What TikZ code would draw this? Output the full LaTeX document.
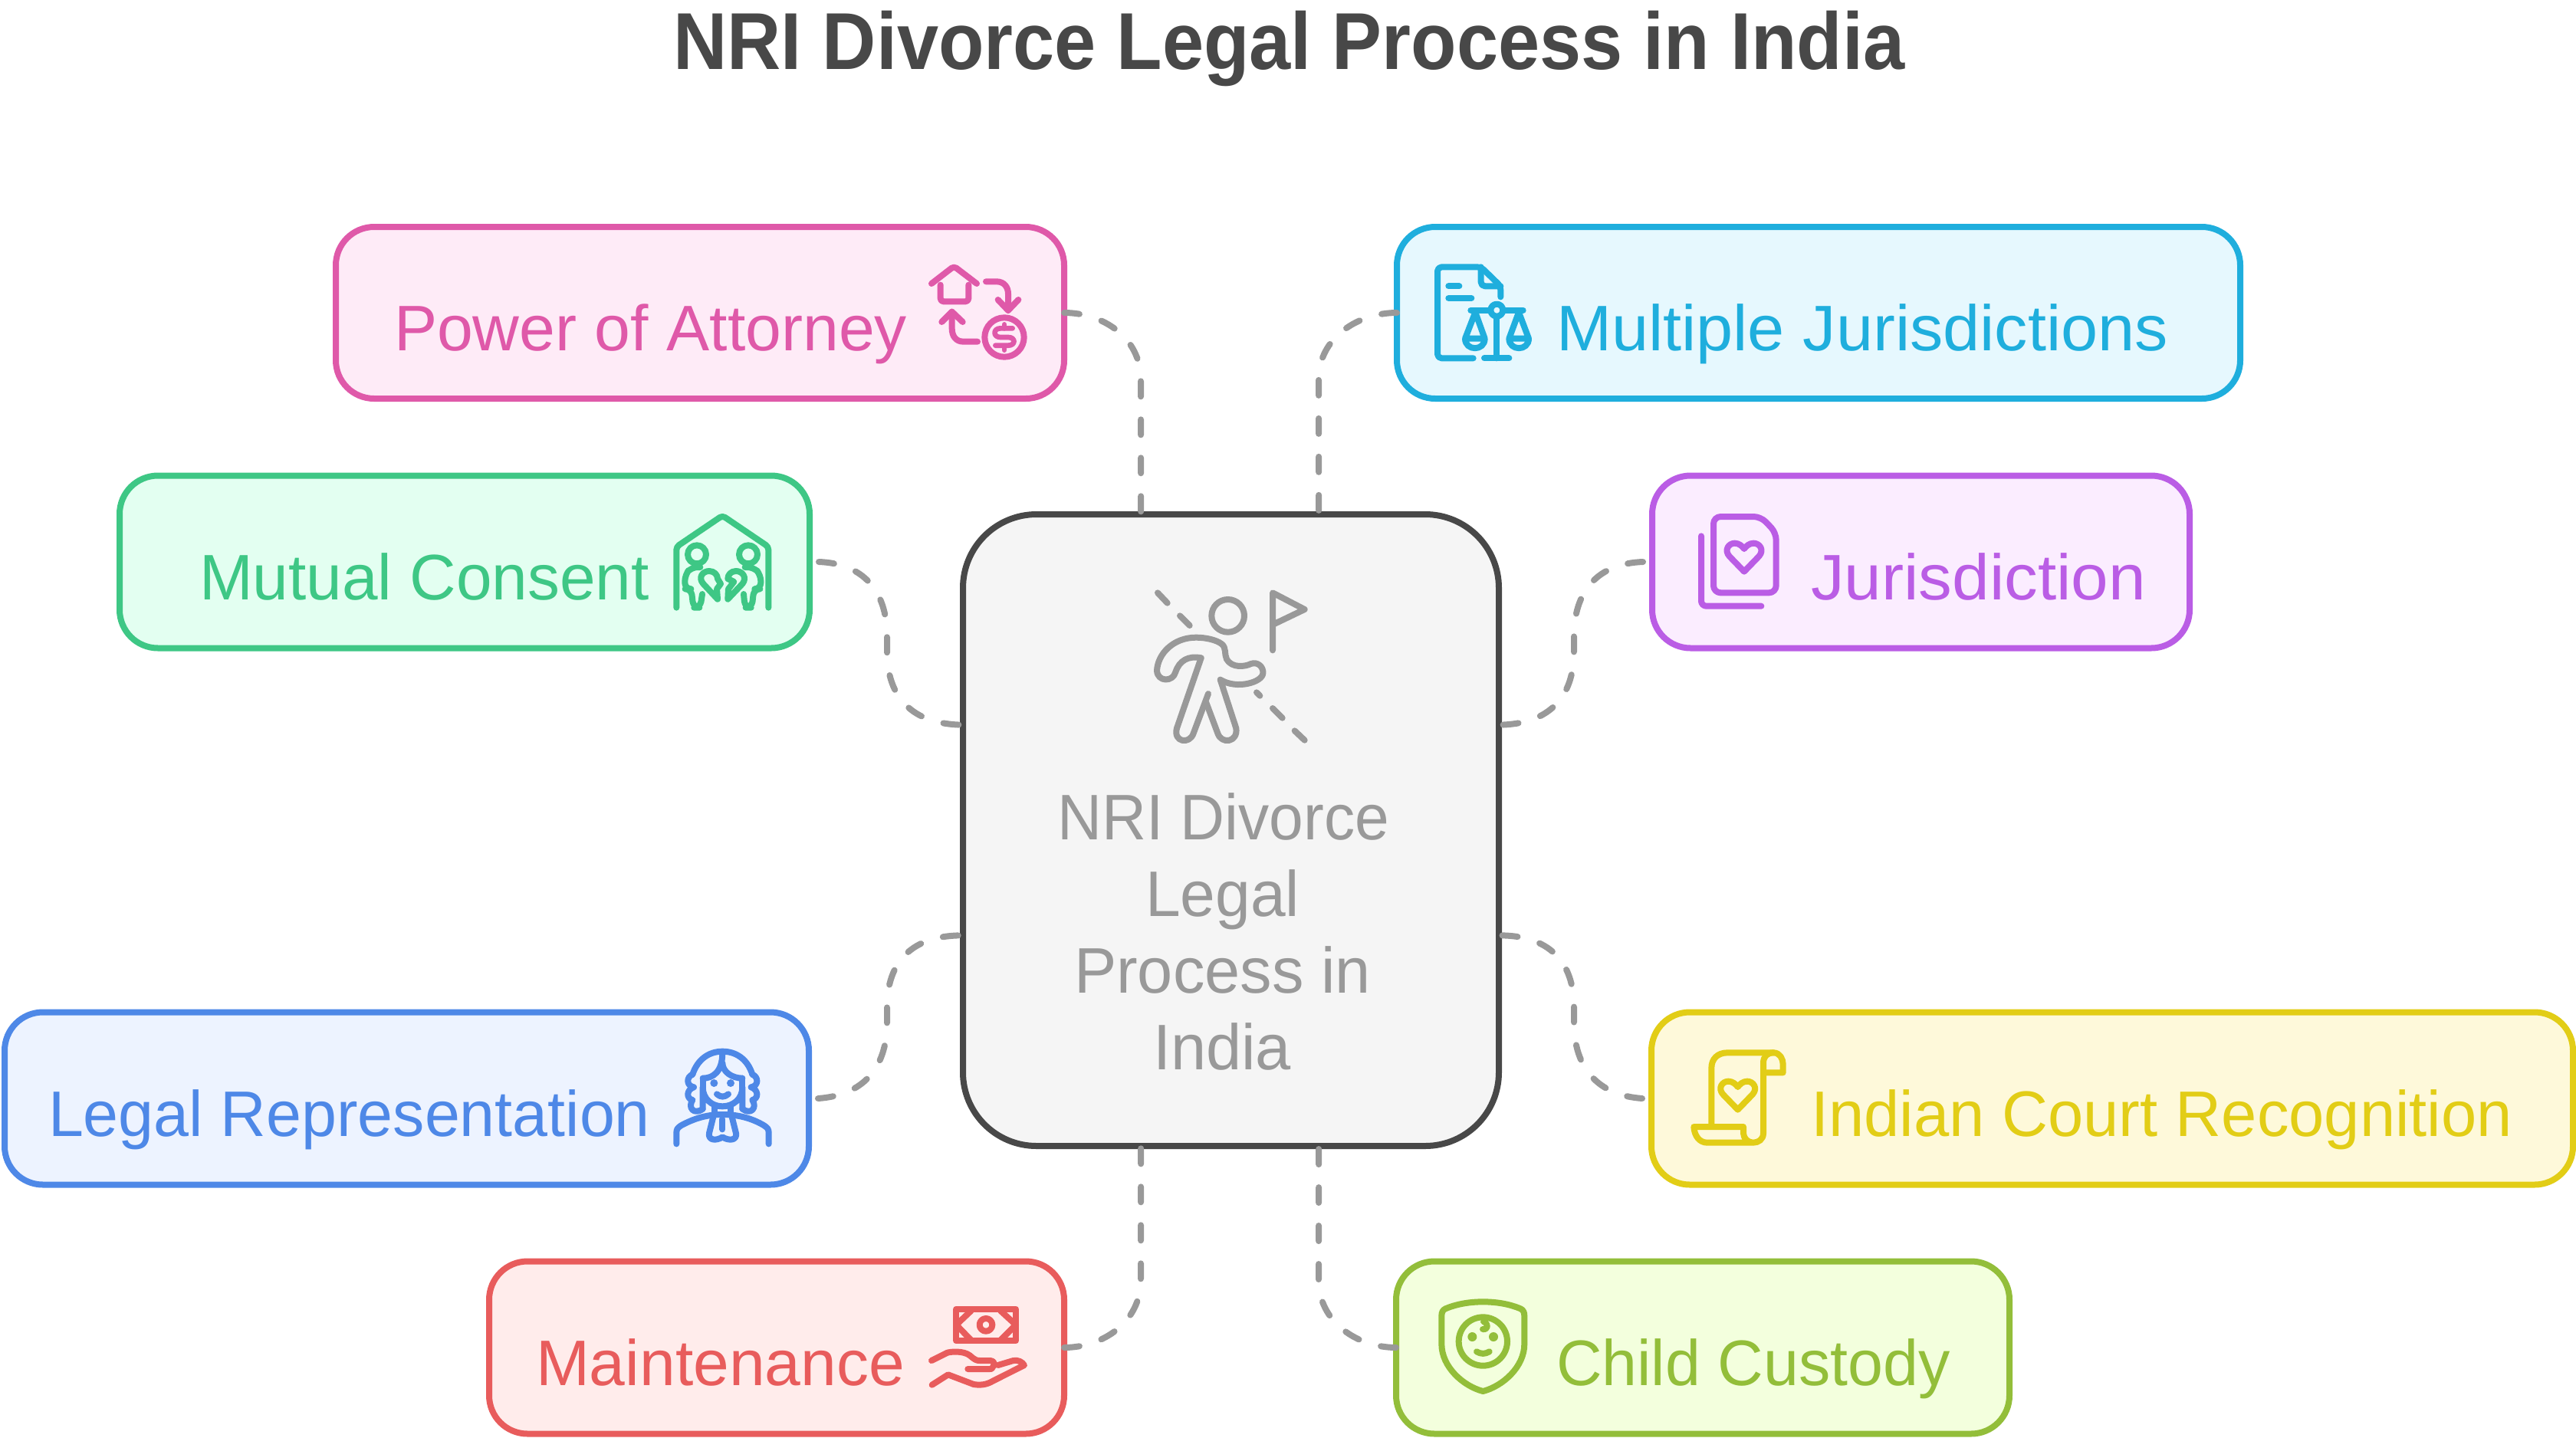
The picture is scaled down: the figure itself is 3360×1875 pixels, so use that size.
\documentclass[tikz,border=0pt]{standalone}
\usepackage{fontspec}
\usepackage{graphicx}
\setmainfont{Liberation Sans}
\newdimen\pxu \pxu=0.75pt
\newcommand{\tw}[2]{\resizebox{#1\pxu}{\height}{#2}}
\definecolor{cpink}{HTML}{DF59A9}\definecolor{fpink}{HTML}{FEEBF7}
\definecolor{csky}{HTML}{1FAEDD}\definecolor{fsky}{HTML}{E6F8FE}
\definecolor{cpur}{HTML}{BA5DE5}\definecolor{fpur}{HTML}{FBEDFF}
\definecolor{cgrn}{HTML}{3EC785}\definecolor{fgrn}{HTML}{E3FFF1}
\definecolor{cblu}{HTML}{4E88E7}\definecolor{fblu}{HTML}{EDF3FF}
\definecolor{cyel}{HTML}{E2CD16}\definecolor{fyel}{HTML}{FEF9DA}
\definecolor{cred}{HTML}{E85C5C}\definecolor{fred}{HTML}{FFECEB}
\definecolor{clim}{HTML}{93BE3A}\definecolor{flim}{HTML}{F3FFDD}
\definecolor{cgry}{HTML}{999999}\definecolor{fgry}{HTML}{F5F5F5}
\definecolor{cdrk}{HTML}{484848}
\tikzset{
 cardbox/.style n args={4}{draw=#1,fill=#2,line width=6pt,rounded corners=37.5pt,minimum width=#3*0.75pt,minimum height=#4*0.75pt,inner sep=0pt,outer sep=0pt},
 label/.style={anchor=base west,inner sep=0pt,outer sep=0pt,font=\fontsize{63}{63}\selectfont},
 link/.style={draw=cgry,line width=6pt,line cap=round,dash pattern=on 15pt off 22.5pt},
 icon/.style={line width=6pt,line cap=round,line join=round},
 iconat/.style={shift={(#1)},x=0.25pt,y=-0.25pt,icon}
}
\newcommand{\heartp}[3]{\draw[#1,shift={(#2,#3)}] (255,257)--(197,197) .. controls (175,172) and (195,146) .. (218,146) .. controls (235,146) and (248,158) .. (255,168) .. controls (262,158) and (275,146) .. (292,146) .. controls (315,146) and (335,172) .. (313,197) -- cycle;}
\begin{document}
\begin{tikzpicture}[x=0.75pt,y=-0.75pt]
\useasboundingbox (0,0) rectangle (3360,1875);
% title
\node[anchor=base west,inner sep=0pt,text=cdrk,font=\fontsize{79}{79}\selectfont\bfseries] (title) at (878,90) {\tw{1606}{NRI Divorce Legal Process in India}};
% boxes
\node[cardbox={cdrk}{fgry}{699}{824},rounded corners=72pt] (ctr) at (1605.5,1083) {};
\node[cardbox={cpink}{fpink}{950}{224}] (pa) at (913,408) {};
\node[cardbox={csky}{fsky}{1100}{224}] (mj) at (2372,408) {};
\node[cardbox={cpur}{fpur}{701}{225}] (ju) at (2505.5,733) {};
\node[cardbox={cgrn}{fgrn}{900}{225}] (mc) at (606,733) {};
\node[cardbox={cblu}{fblu}{1049}{225}] (lr) at (530.5,1433) {};
\node[cardbox={cyel}{fyel}{1202}{225}] (ic) at (2755,1433) {};
\node[cardbox={cred}{fred}{750}{225}] (mt) at (1013,1758) {};
\node[cardbox={clim}{flim}{800}{225}] (cc) at (2221,1758) {};
% labels
\node[label,text=cpink] (tpa) at (514,457) {\tw{669}{Power of Attorney}};
\node[label,text=csky] (tmj) at (2030,457) {\tw{798}{Multiple Jurisdictions}};
\node[label,text=cpur] (tju) at (2362,782) {\tw{437}{Jurisdiction}};
\node[label,text=cgrn] (tmc) at (260,782) {\tw{587}{Mutual Consent}};
\node[label,text=cblu] (tlr) at (63,1482) {\tw{785}{Legal Representation}};
\node[label,text=cyel] (tic) at (2362,1482) {\tw{915}{Indian Court Recognition}};
\node[label,text=cred] (tmt) at (699,1807) {\tw{481}{Maintenance}};
\node[label,text=clim] (tcc) at (2030,1807) {\tw{514}{Child Custody}};
\node[label,text=cgry] (t1) at (1379,1095) {\tw{433}{NRI Divorce}};
\node[label,text=cgry] (t2) at (1494,1195) {\tw{201}{Legal}};
\node[label,text=cgry] (t3) at (1401,1295) {\tw{387}{Process in}};
\node[label,text=cgry] (t4) at (1504,1395) {\tw{180}{India}};
% connectors
\draw[link] (pa.east) .. controls +(50,0) and (1488,440) .. (1488,495) -- ([xshift=-88pt]ctr.north);
\draw[link] (mj.west) .. controls +(-50,0) and (1720,440) .. (1720,495) -- ([xshift=86pt]ctr.north);
\draw[link] (mt.east) .. controls +(50,0) and (1488,1725) .. (1488,1670) -- ([xshift=-88pt]ctr.south);
\draw[link] (cc.west) .. controls +(-50,0) and (1720,1725) .. (1720,1670) -- ([xshift=86pt]ctr.south);
\draw[link] ([xshift=9pt]mc.east) .. controls (1125,735) and (1157,770) .. (1157,830) -- (1157,850) .. controls (1157,910) and (1190,945) .. ([yshift=103pt]ctr.west);
\draw[link] ([xshift=-9pt]ju.west) .. controls (2085,735) and (2053,770) .. (2053,830) -- (2053,850) .. controls (2053,910) and (2020,945) .. ([yshift=103pt]ctr.east);
\draw[link] ([xshift=9pt]lr.east) .. controls (1125,1429) and (1157,1394) .. (1157,1334) -- (1157,1314) .. controls (1157,1254) and (1190,1220) .. ([yshift=-103pt]ctr.west);
\draw[link] ([xshift=-9pt]ic.west) .. controls (2085,1429) and (2053,1394) .. (2053,1334) -- (2053,1314) .. controls (2053,1254) and (2020,1220) .. ([yshift=-103pt]ctr.east);
% centre icon
\begin{scope}[iconat={1450,730},draw=cgry]
\draw (180,130)--(218,170) (267,220)--(305,258) (567,520)--(580,533) (630,582)--(668,620) (716,670)--(755,707);
\draw (455,220) circle[radius=64];
\draw (630,355)--(630,130)--(755,195)--(630,255);
\draw (350,385) .. controls (300,375) and (265,395) .. (250,440) .. controls (240,480) and (180,480) .. (177,435) .. controls (180,370) and (240,305) .. (330,305) .. controls (370,305) and (410,315) .. (430,330) .. controls (450,345) and (440,370) .. (450,390) .. controls (470,425) and (520,420) .. (545,408) .. controls (570,398) and (595,420) .. (592,445) .. controls (590,480) and (490,510) .. (425,470) -- (487,660) .. controls (495,715) and (430,725) .. (415,680) -- (370,560);
\draw (350,385) -- (255,660) .. controls (240,715) and (305,725) .. (320,680) -- (378,525);
\end{scope}
% pink icon
\begin{scope}[iconat={1190,330},draw=cpink]
\draw[rounded corners=3pt] (75,120)--(163,52)--(252,120);
\draw[rounded corners=3pt] (110,125)--(110,190)--(220,190)--(220,125);
\draw (288,112)--(330,112) .. controls (360,112) and (375,135) .. (375,160) -- (375,225);
\draw (335,183)--(375,225)--(415,183);
\draw (360,330) circle[radius=77];
\draw[line width=5pt] (392,295)--(345,295) .. controls (315,295) and (315,330) .. (345,330) -- (375,330) .. controls (405,330) and (405,362) .. (375,362) -- (325,362);
\draw[line width=5pt] (360,280)--(360,295) (360,365)--(360,380);
\draw (255,347)--(200,347) .. controls (170,347) and (155,325) .. (155,295) -- (155,230);
\draw (115,270)--(155,230)--(197,270);
\end{scope}
% sky icon
\begin{scope}[iconat={1850,330},draw=csky]
\draw[rounded corners=4pt] (215,412)--(75,412)--(75,55)--(245,55)--(322,130)--(322,172);
\draw[rounded corners=4pt] (245,55)--(245,130)--(322,130);
\draw (118,130)--(160,130) (118,177)--(208,177);
\draw (205,224)--(410,224) (307,250)--(307,412) (258,412)--(355,412);
\draw[fill=fsky] (307,224) circle[radius=24];
\draw (223,232)--(183,335)--(260,335)--cycle (183,335) .. controls (183,385) and (260,385) .. (260,335);
\draw (393,232)--(355,335)--(432,335)--cycle (355,335) .. controls (355,385) and (432,385) .. (432,335);
\end{scope}
% green icon
\begin{scope}[iconat={860,660},draw=cgrn]
\draw[rounded corners=3pt] (67,398)--(67,160)--(247,38)--(427,160)--(427,398);
\draw (147,190) circle[radius=36] (348,190) circle[radius=36];
\draw[rounded corners=6pt] (160,240)--(125,240)--(100,270)--(100,325)--(125,325)--(133,398)--(160,398)--(168,345);
\draw[rounded corners=6pt] (335,240)--(370,240)--(397,270)--(397,325)--(370,325)--(362,398)--(335,398)--(330,345);
\draw (228,365)--(172,305) .. controls (150,280) and (170,255) .. (195,255) .. controls (215,255) and (228,270) .. (228,285) -- (240,305)--(225,325)--cycle;
\draw (268,365)--(325,305) .. controls (345,280) and (325,255) .. (300,255) .. controls (280,255) and (268,270) .. (268,285) -- (292,297)--(270,325)--cycle;
\end{scope}
% purple icon
\begin{scope}[iconat={2190,660},draw=cpur]
\draw[rounded corners=5pt] (87,118)--(87,392)--(322,392);
\draw[rounded corners=7pt] (135,340)--(135,42)--(320,42)--(380,105)--(380,340)--cycle;
\heartp{}{0}{0}
\end{scope}
% blue icon
\begin{scope}[iconat={860,1350},draw=cblu]
\draw (130,155) .. controls (150,95) and (195,65) .. (247,65) .. controls (300,65) and (345,95) .. (364,155);
\draw (130,155) .. controls (105,165) and (105,200) .. (135,205) .. controls (105,215) and (105,250) .. (130,255) .. controls (110,285) and (135,315) .. (170,290);
\draw (364,155) .. controls (389,165) and (389,200) .. (359,205) .. controls (389,215) and (389,250) .. (364,255) .. controls (384,285) and (359,315) .. (325,290);
\draw (170,290)--(170,205) .. controls (170,250) and (205,280) .. (247,280) .. controls (290,280) and (325,250) .. (325,205) -- (325,290);
\draw (325,205)--(325,170) (170,205)--(170,170);
\draw (170,170) .. controls (210,170) and (247,145) .. (247,70);
\draw (325,170) .. controls (285,170) and (247,145) .. (247,110);
\fill[cblu] (214,189) circle[radius=15] (279,189) circle[radius=15];
\draw (225,232) .. controls (240,245) and (255,245) .. (270,232);
\draw (67,427)--(67,385) .. controls (67,370) and (70,365) .. (85,355) .. controls (140,325) and (190,312) .. (247,312) .. controls (305,312) and (360,325) .. (410,355) .. controls (425,365) and (428,370) .. (428,385) -- (428,427);
\draw (215,280)--(215,312) (280,280)--(280,312);
\draw (210,325)--(195,385) .. controls (190,415) and (225,415) .. (247,400) .. controls (270,415) and (305,415) .. (300,385) -- (285,325);
\draw (247,330)--(247,370);
\end{scope}
% yellow icon
\begin{scope}[iconat={2190,1350},draw=cyel]
\draw (127,350)--(127,130) .. controls (127,95) and (150,70) .. (190,70) -- (370,70) .. controls (395,70) and (407,95) .. (407,115) -- (407,148) -- (333,148);
\draw (370,70) .. controls (345,70) and (330,85) .. (330,110) -- (330,385) .. controls (330,410) and (310,422) .. (290,422) -- (110,422) .. controls (80,422) and (60,395) .. (58,360) -- (252,360) -- (252,385) .. controls (252,405) and (270,422) .. (290,422);
\heartp{}{-25}{36}
\end{scope}
% red icon
\begin{scope}[iconat={1200,1680},draw=cred]
\draw (142,83) rectangle (375,208);
\draw (142,145)--(200,90) (142,145)--(200,205) (375,145)--(315,90) (375,145)--(315,205);
\draw (258,145) circle[radius=25];
\draw (45,285)--(105,255) .. controls (115,250) and (170,245) .. (195,265) .. controls (215,282) and (220,285) .. (235,285) -- (275,285) .. controls (290,285) and (295,300) .. (285,310) .. controls (283,318) and (280,318) .. (270,318) -- (187,318);
\draw (305,303)--(365,285) .. controls (385,282) and (400,290) .. (408,303) -- (285,365) .. controls (260,380) and (235,382) .. (210,378) -- (110,340) -- (47,380);
\end{scope}
% lime icon
\begin{scope}[iconat={1860,1680},draw=clim]
\draw (223,55) .. controls (280,55) and (330,65) .. (370,82) .. controls (380,87) and (385,95) .. (385,110) -- (385,220) .. controls (385,310) and (300,385) .. (223,405) .. controls (146,385) and (61,310) .. (61,220) -- (61,110) .. controls (61,95) and (66,87) .. (76,82) .. controls (116,65) and (166,55) .. (223,55) -- cycle;
\draw (223,210) circle[radius=95];
\fill[clim] (181,192) circle[radius=18] (264,192) circle[radius=18];
\draw (198,250) .. controls (215,260) and (231,260) .. (248,250);
\draw (225,132) .. controls (245,140) and (245,165) .. (222,162);
\end{scope}
\end{tikzpicture}
\end{document}
